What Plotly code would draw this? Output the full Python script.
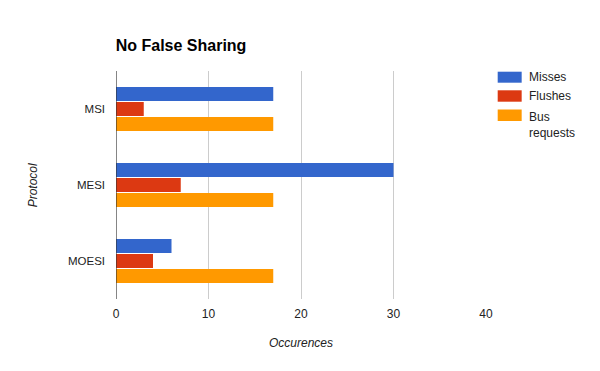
import plotly.graph_objects as go

protocols = ["MSI", "MESI", "MOESI"]
misses = [17, 30, 6]
flushes = [3, 7, 4]
bus_requests = [17, 17, 17]
series_names = ["Misses", "Flushes", "Bus<br>requests"]
colors = ["#3366cc", "#dc3912", "#ff9900"]
x_ticks = [0, 10, 20, 30, 40]

W, H = 600, 371
L, R, T, B = 115.7, 486.0, 71.0, 299.0
FONT = "Arial, 'Liberation Sans', sans-serif"

def px_x(px):
    return (px - L) / (R - L)

def px_y(py):
    return 1 - (py - T) / (B - T)

fig = go.Figure()
for name, vals, col in zip(series_names, [misses, flushes, bus_requests], colors):
    fig.add_trace(go.Bar(y=protocols, x=vals, name=name, orientation="h",
                         marker=dict(color=col, line=dict(width=0)),
                         showlegend=False))

shapes = []
annotations = []
# custom legend
leg_y = [(71.7, 82.7, 76.5), (90.3, 101.7, 96), (109.5, 121, 115.5)]
for (y0, y1, yc), name, col in zip(leg_y, series_names, colors):
    shapes.append(dict(type="rect", xref="paper", yref="paper",
                       x0=px_x(497.7), x1=px_x(521.7), y0=px_y(y1), y1=px_y(y0),
                       fillcolor=col, line=dict(width=0)))
    annotations.append(dict(xref="paper", yref="paper", x=px_x(527.5), y=px_y(yc),
                            xanchor="left", yanchor="middle",
                            text=name, showarrow=False, align="left",
                            font=dict(family=FONT, size=12, color="#222222")))
annotations[-1]["y"] = px_y(108)
annotations[-1]["yanchor"] = "top"

annotations.append(dict(xref="paper", yref="paper", x=px_x(301), y=px_y(343),
                        text="<i>Occurences</i>", showarrow=False,
                        xanchor="center", yanchor="middle",
                        font=dict(family=FONT, size=12, color="#222222")))
annotations.append(dict(xref="paper", yref="paper", x=px_x(33), y=px_y(185),
                        text="<i>Protocol</i>", showarrow=False, textangle=-90,
                        xanchor="center", yanchor="middle",
                        font=dict(family=FONT, size=12, color="#222222")))

fig.update_layout(
    width=W, height=H,
    margin=dict(l=L, r=W - R, t=T, b=H - B, pad=0),
    paper_bgcolor="white", plot_bgcolor="white",
    barmode="group", bargap=0.41, bargroupgap=0.06,
    title=dict(text="<b>No False Sharing</b>", xref="container", yref="container",
               x=115.7 / W, xanchor="left", y=1 - 45 / H, yanchor="middle",
               font=dict(family=FONT, size=16, color="#000000")),
    xaxis=dict(range=[0, 40], tickvals=x_ticks, ticktext=[str(v) for v in x_ticks],
               showgrid=True, gridcolor="#cccccc", gridwidth=1, zeroline=False,
               showline=False, ticks="", ticklabelstandoff=6,
               tickfont=dict(family=FONT, size=12, color="#222222")),
    yaxis=dict(categoryorder="array", categoryarray=protocols, autorange="reversed",
               showgrid=False, zeroline=False, showline=False, ticks="",
               ticklabelstandoff=10,
               tickfont=dict(family=FONT, size=11.5, color="#222222")),
    shapes=shapes + [dict(type="line", xref="x", yref="paper", x0=0, x1=0, y0=0, y1=1,
                          line=dict(color="#333333", width=1.2))],
    annotations=annotations,
    showlegend=False,
)

fig.write_html("out.html", config={"displayModeBar": False},
               post_script="document.body.style.margin='0';document.body.style.overflow='hidden';")
